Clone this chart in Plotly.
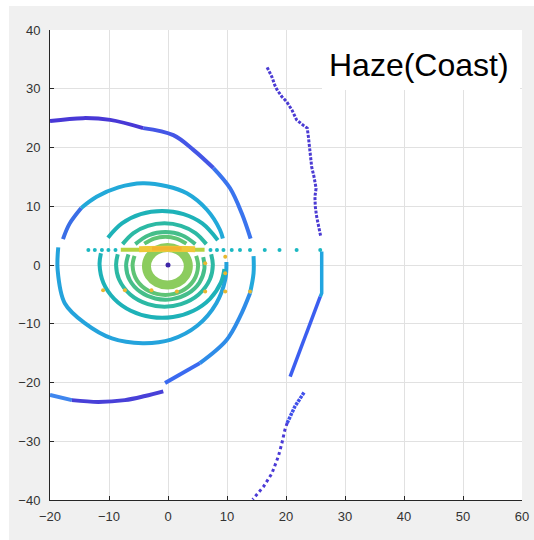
import plotly.graph_objects as go

# ---------------- point-cloud outlines (metres, sensor at origin) ----------------
OUTER_TOP_X = [-20.0, -14.4, -9.8, -4.2, 0.9, 4.3, 7.7, 10.5, 12.5, 14.0]
OUTER_TOP_Y = [24.5, 25.0, 24.7, 23.3, 22.1, 19.6, 16.5, 13.1, 8.8, 4.5]

OUTER_LOW_X = [14.5, 14.5, 13.9, 12.2, 9.9, 5.4, -0.5]
OUTER_LOW_Y = [1.5, -1.4, -4.8, -8.8, -12.8, -16.7, -20.1]

LOWER_LEFT_X = [-20.0, -16.3, -11.8, -7.3, -3.9, -0.8]
LOWER_LEFT_Y = [-22.1, -23.0, -23.3, -23.0, -22.3, -21.5]

RING2_TOP_X = [-17.8, -16.7, -14.7, -12.1, -8.4, -4.3, -0.2, 3.2, 6.6, 8.8, 9.3]
RING2_TOP_Y = [4.4, 7.0, 9.7, 11.6, 13.2, 13.9, 13.4, 12.2, 9.4, 6.0, 4.5]
RING2_BOT_X = [-18.6, -18.7, -17.5, -14.1, -9.5, -4.3, 0.5, 5.0, 8.2, 9.7, 9.9]
RING2_BOT_Y = [3.0, -0.9, -6.5, -9.9, -12.5, -13.3, -12.7, -10.3, -6.5, -2.5, 0.5]

RING3_TOP_X = [-10.18, -7.81, -4.63, -1.0, 2.63, 5.81, 8.44]
RING3_TOP_Y = [4.65, 7.07, 8.65, 9.2, 8.65, 7.07, 4.23]
RING3_BOT_X = [-11.37, -11.6, -10.96, -9.12, -6.3, -2.84, 0.84, 4.3, 7.12, 8.96, 9.56]
RING3_BOT_Y = [2.0, 0.1, -3.01, -5.75, -7.78, -8.86, -8.86, -7.78, -5.75, -3.01, -0.69]

RING4_TOP_X = [-7.7, -5.87, -3.4, -0.6, 2.2, 4.67, 6.5]
RING4_TOP_Y = [3.55, 5.44, 6.67, 7.1, 6.67, 5.44, 3.55]
RING4_BOT_X = [-8.52, -8.8, -8.31, -6.4, -3.4, -0.6, 2.2, 5.2, 7.11, 7.6, 7.32]
RING4_BOT_Y = [1.84, 0.0, -2.43, -5.02, -6.67, -7.1, -6.67, -5.02, -2.43, 0.0, 1.84]

RING5_TOP_X = [-5.54, -3.26, -0.45, 2.36, 4.64]
RING5_TOP_Y = [3.55, 5.06, 5.6, 5.06, 3.55]
RING5_BOT_X = [-6.7, -7.1, -6.48, -4.73, -2.17, 0.71, 3.37, 5.31, 6.17, 5.97]
RING5_BOT_Y = [1.82, -0.15, -2.58, -4.55, -5.7, -5.81, -4.86, -3.03, -0.65, 1.34]

RING6_TOP_X = [-4.02, -2.35, -0.45, 1.45, 3.12]
RING6_TOP_Y = [3.64, 4.5, 4.8, 4.5, 3.64]
RING6_BOT_X = [-5.67, -6.0, -5.26, -3.23, -0.45, 2.33, 4.36, 5.1, 4.77]
RING6_BOT_Y = [1.54, -0.15, -2.63, -4.44, -5.1, -4.44, -2.63, -0.15, 1.54]

# dense returns around the blind spot
CORE_X = [3.45, 2.97, 1.68, -0.1, -1.88, -3.17, -3.65, -3.17, -1.88, -0.1, 1.68, 2.97, 3.45]
CORE_Y = [-0.2, 1.4, 2.57, 3.0, 2.57, 1.4, -0.2, -1.8, -2.97, -3.4, -2.97, -1.8, -0.2]

# strong returns along the scan line just above the sensor
BAND_OUT_X = [-8.0, 6.2]
BAND_OUT_Y = [2.6, 2.6]
BAND_IN_X = [-4.9, 0.0, 4.6]
BAND_IN_Y = [2.7, 2.75, 2.7]
BAND_HOT_X = [-2.7, 2.3]
BAND_HOT_Y = [2.8, 2.8]

# isolated returns on the same scan line
ROW_X = [-13.5, -12.4, -11.2, -10.1, -8.9, 7.2, 8.3, 9.4, 10.8, 12.2, 13.9,
         16.4, 18.9, 21.8, 25.8]
ROW_Y = [2.55] * len(ROW_X)

# bright single returns
HOT_X = [-11.0, -7.3, -2.8, 1.5, 6.3, 9.7, 13.9, 6.3, 9.7, 9.7]
HOT_Y = [-4.3, -4.3, -4.3, -4.5, -4.5, -4.5, -4.5, 0.3, -1.4, 1.4]

# wall / shoreline on the right
WALL_TOP_X = [16.8, 17.2, 17.6, 18.1, 18.5, 19.3, 20.1, 21.0, 21.8, 22.9, 23.6, 23.8,
              23.95, 24.1, 24.35, 24.75, 25.1, 24.9, 24.97, 25.2, 25.5, 25.9]
WALL_TOP_Y = [33.65, 32.9, 32.05, 30.6, 29.8, 28.65, 27.8, 26.4, 24.7, 23.8, 23.3, 21.8,
              20.1, 18.4, 16.7, 15.0, 13.05, 11.6, 9.9, 8.2, 6.5, 4.8]
WALL_MID_X = [26.05, 26.05, 25.8]
WALL_MID_Y = [2.3, -4.8, -5.4]
WALL_LOW_X = [25.8, 24.1, 22.4, 20.7]
WALL_LOW_Y = [-5.4, -9.9, -14.5, -19.0]
WALL_FAR_X = [23.05, 21.5, 20.2]
WALL_FAR_Y = [-21.7, -24.1, -26.9]
WALL_END_X = [20.2, 19.8, 19.3, 18.7, 17.6, 16.2, 14.35]
WALL_END_Y = [-26.9, -28.1, -30.35, -32.6, -35.5, -37.7, -39.9]

TITLE = "Haze(Coast)"
X_TICKS = [-20, -10, 0, 10, 20, 30, 40, 50, 60]
Y_TICKS = [-40, -30, -20, -10, 0, 10, 20, 30, 40]

fig = go.Figure()


def arc(xs, ys, color, width=4, dash=None, smooth=True):
    fig.add_trace(go.Scatter(
        x=xs, y=ys, mode="lines",
        line=dict(color=color, width=width, dash=dash,
                  shape="spline" if smooth else "linear", smoothing=1.0),
        hoverinfo="skip", showlegend=False))


# far structures
arc(OUTER_TOP_X[:4], OUTER_TOP_Y[:4], "#4838d6")
arc(OUTER_TOP_X[3:7], OUTER_TOP_Y[3:7], "#4456e6")
arc(OUTER_TOP_X[6:], OUTER_TOP_Y[6:], "#3a74ee")
arc(OUTER_LOW_X[:3], OUTER_LOW_Y[:3], "#22a8dc")
arc(OUTER_LOW_X[2:6], OUTER_LOW_Y[2:6], "#2e8ce8")
arc(OUTER_LOW_X[5:], OUTER_LOW_Y[5:], "#3a6af0")
arc(LOWER_LEFT_X[:2], LOWER_LEFT_Y[:2], "#3f86ee")
arc(LOWER_LEFT_X[1:], LOWER_LEFT_Y[1:], "#4840d8")

# ground rings
arc(RING2_TOP_X[:3], RING2_TOP_Y[:3], "#3a6ee6")
arc(RING2_TOP_X[2:], RING2_TOP_Y[2:], "#22a9d9")
arc(RING2_BOT_X, RING2_BOT_Y, "#24a3dc")
arc(RING3_TOP_X, RING3_TOP_Y, "#1eb2b8")
arc(RING3_BOT_X, RING3_BOT_Y, "#1eb2b8")
arc(RING4_TOP_X, RING4_TOP_Y, "#2cb9a4")
arc(RING4_BOT_X, RING4_BOT_Y, "#2cb9a4")
arc(RING5_TOP_X, RING5_TOP_Y, "#45be8a")
arc(RING5_BOT_X, RING5_BOT_Y, "#45be8a")
arc(RING6_TOP_X, RING6_TOP_Y, "#5ec476")
arc(RING6_BOT_X, RING6_BOT_Y, "#5ec476")
arc(CORE_X, CORE_Y, "#8ccc5e", width=9)

# scan line returns
arc(BAND_OUT_X, BAND_OUT_Y, "#b5d33f", width=4, smooth=False)
arc(BAND_IN_X, BAND_IN_Y, "#f0c838", width=6)
arc(BAND_HOT_X, BAND_HOT_Y, "#f2b430", width=4, smooth=False)
fig.add_trace(go.Scatter(x=ROW_X, y=ROW_Y, mode="markers",
                         marker=dict(color="#1cb8c2", size=4, line=dict(width=0)),
                         hoverinfo="skip", showlegend=False))
fig.add_trace(go.Scatter(x=HOT_X, y=HOT_Y, mode="markers",
                         marker=dict(color="#e8b830", size=4, line=dict(width=0)),
                         hoverinfo="skip", showlegend=False))

# wall
arc(WALL_TOP_X, WALL_TOP_Y, "#4b3bd3", width=3, dash="3px,1.5px", smooth=False)
arc(WALL_MID_X, WALL_MID_Y, "#22a5e0", width=3.5, smooth=False)
arc(WALL_LOW_X, WALL_LOW_Y, "#3b5ef0", width=3.5, smooth=False)
arc(WALL_FAR_X, WALL_FAR_Y, "#4050ea", width=3.5, dash="3px,1px", smooth=False)
arc(WALL_END_X, WALL_END_Y, "#4a3ad6", width=3, dash="3px,3px", smooth=False)

# sensor position
fig.add_trace(go.Scatter(x=[0], y=[0], mode="markers",
                         marker=dict(color="#3e26a8", size=5),
                         hoverinfo="skip", showlegend=False))

axis_common = dict(
    showline=True, linecolor="#262626", linewidth=1, mirror=False,
    ticks="inside", ticklen=4, tickcolor="#262626", tickwidth=1,
    showgrid=True, gridcolor="#e1e1e1", gridwidth=1, zeroline=False,
    tickfont=dict(family="Liberation Sans, Arial, sans-serif", size=13, color="#333333"),
)

fig.update_xaxes(range=[-20, 60], tickvals=X_TICKS, ticklabelstandoff=4, **axis_common)
fig.update_yaxes(range=[-40, 40], tickvals=Y_TICKS, ticklabelstandoff=6, **axis_common)

# page is rendered 7 px narrower than the requested width, so ask for 541
W, H = 541, 540
L, R, T, B = 50, 12, 30, 40
pw, ph = 472, H - T - B


def px_x(p):
    return (p - L) / pw


def px_y(p):
    return (H - B - p) / ph


fig.update_layout(
    width=W, height=H, autosize=False,
    margin=dict(l=L, r=R, t=T, b=B, pad=0),
    paper_bgcolor="#f0f0f0", plot_bgcolor="white",
    shapes=[
        # white page edge at left and top
        dict(type="rect", xref="paper", yref="paper", x0=px_x(0), x1=px_x(9),
             y0=px_y(H), y1=px_y(0), fillcolor="white", line=dict(width=0), layer="below"),
        dict(type="rect", xref="paper", yref="paper", x0=px_x(0), x1=px_x(W),
             y0=px_y(6), y1=px_y(0), fillcolor="white", line=dict(width=0), layer="below"),
        # label box
        dict(type="rect", xref="paper", yref="paper", x0=px_x(322), x1=px_x(520),
             y0=px_y(90), y1=px_y(30), fillcolor="white", line=dict(width=0), layer="above"),
    ],
    annotations=[dict(text=TITLE, xref="paper", yref="paper", x=px_x(419), y=px_y(65),
                      xanchor="center", yanchor="middle", showarrow=False,
                      font=dict(family="Liberation Sans, Arial, sans-serif", size=32,
                                color="black"))],
)

fig.write_html("out.html", config={"responsive": False})
